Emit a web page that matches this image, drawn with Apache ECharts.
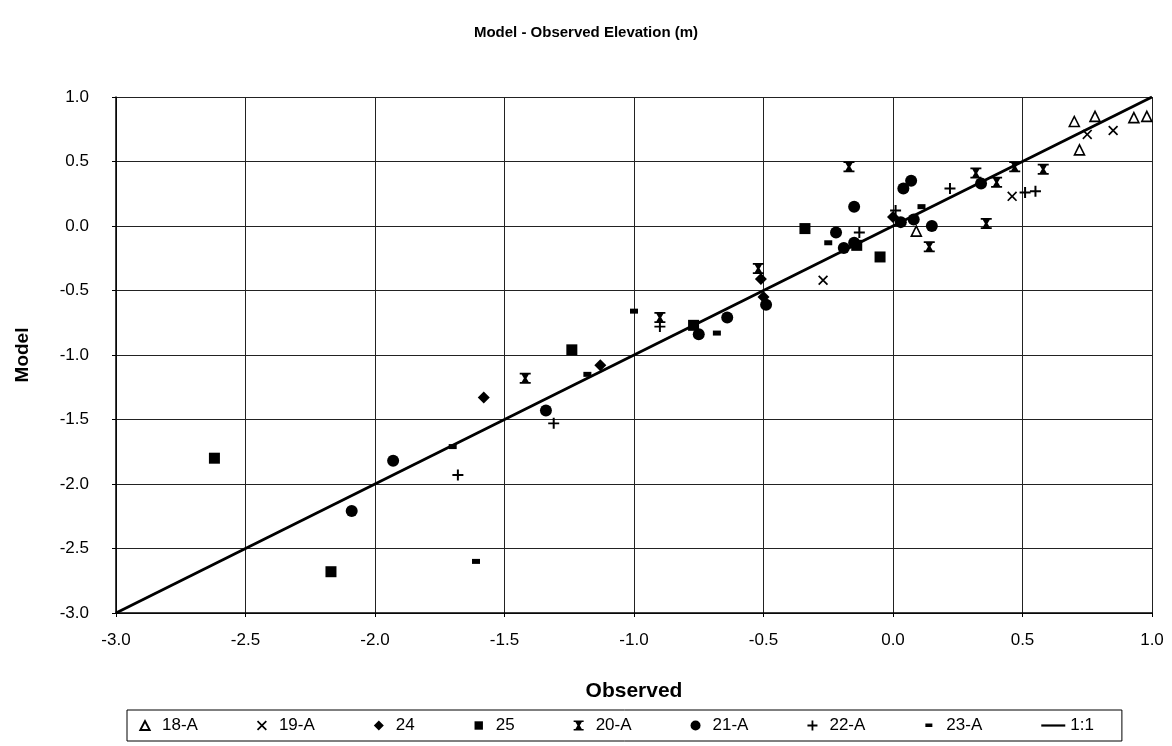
<!DOCTYPE html>
<html>
<head>
<meta charset="utf-8">
<script src="https://cdn.jsdelivr.net/npm/echarts@6/dist/echarts.min.js"></script>
<style>
html,body{margin:0;padding:0;background:#fff;}
#chart{width:1172px;height:746px;}
</style>
</head>
<body>
<div id="chart"></div>
<script>
// Data: [observed, model]
var s18A = [[0.70,0.81],[0.78,0.85],[0.72,0.59],[0.93,0.84],[0.98,0.85],[0.09,-0.04]];
var s19A = [[0.75,0.71],[0.85,0.74],[0.46,0.23],[-0.27,-0.42]];
var s24  = [[-1.13,-1.08],[-0.51,-0.41],[-0.50,-0.55],[-1.58,-1.33],[0.00,0.07]];
var s25  = [[-0.34,-0.02],[-0.05,-0.24],[-0.14,-0.15],[-0.77,-0.77],[-1.24,-0.96],[-2.62,-1.80],[-2.17,-2.68]];
var s20A = [[-0.17,0.46],[0.47,0.46],[0.58,0.44],[0.32,0.41],[0.40,0.34],[0.36,0.02],[0.14,-0.16],[-0.52,-0.33],[-0.90,-0.71],[-1.42,-1.18]];
var s21A = [[0.07,0.35],[0.04,0.29],[-0.15,0.15],[-0.22,-0.05],[-0.19,-0.17],[-0.15,-0.13],[-0.49,-0.61],[-0.64,-0.71],[-0.75,-0.84],[0.15,0.00],[0.34,0.33],[0.08,0.05],[0.03,0.03],[-1.34,-1.43],[-1.93,-1.82],[-2.09,-2.21]];
var s22A = [[0.22,0.29],[0.51,0.26],[0.55,0.27],[0.01,0.12],[-0.13,-0.05],[-0.90,-0.78],[-1.31,-1.53],[-1.68,-1.93]];
var s23A = [[-1.00,-0.66],[-1.18,-1.15],[-1.70,-1.71],[-1.61,-2.60],[-0.68,-0.83],[-0.25,-0.13],[0.11,0.15]];
var lineOneToOne = [[-3,-3],[1,1]];
var axisMin = -3.0, axisMax = 1.0, axisStep = 0.5;

var FONT = '"Liberation Sans", Arial, sans-serif';
var symX = 'path://M0,1.2L1.2,0L5,3.8L8.8,0L10,1.2L6.2,5L10,8.8L8.8,10L5,6.2L1.2,10L0,8.8L3.8,5Z';
var symPlus = 'path://M4.1,0H5.9V4.1H10V5.9H5.9V10H4.1V5.9H0V4.1H4.1Z';
var symStar = 'path://M0,0H10V1.6H8.2L6.2,5L8.2,8.4H10V10H0V8.4H1.8L3.8,5L1.8,1.6H0Z';

function sc(name, data, symbol, size, extraStyle) {
  return {
    name: name, type: 'scatter', data: data, symbol: symbol, symbolSize: size,
    itemStyle: Object.assign({color: '#000', opacity: 1}, extraStyle || {}),
    emphasis: {disabled: true},
    z: 3
  };
}

var chart = echarts.init(document.getElementById('chart'), null, {renderer: 'canvas'});
chart.setOption({
  animation: false,
  backgroundColor: '#fff',
  title: {
    text: 'Model - Observed Elevation (m)',
    left: 'center', top: 20,
    textStyle: {fontFamily: FONT, fontSize: 15, fontWeight: 'bold', color: '#000'}
  },
  grid: {left: 116, right: 20, top: 97, bottom: 133, containLabel: false},
  xAxis: {
    type: 'value', min: axisMin, max: axisMax, interval: axisStep,
    name: 'Observed', nameLocation: 'middle', nameGap: 68,
    nameTextStyle: {fontFamily: FONT, fontSize: 21, fontWeight: 'bold', color: '#000'},
    axisLine: {show: true, onZero: false, lineStyle: {color: '#000', width: 1.5}},
    axisTick: {show: true, inside: false, length: 4, lineStyle: {color: '#000'}},
    axisLabel: {fontFamily: FONT, fontSize: 17, color: '#000', margin: 19,
      formatter: function (v) { return v.toFixed(1); }},
    splitLine: {show: true, lineStyle: {color: '#222', width: 1}}
  },
  yAxis: {
    type: 'value', min: axisMin, max: axisMax, interval: axisStep,
    name: 'Model', nameLocation: 'middle', nameGap: 84, nameRotate: 90,
    nameTextStyle: {fontFamily: FONT, fontSize: 19, fontWeight: 'bold', color: '#000'},
    axisLine: {show: true, onZero: false, lineStyle: {color: '#000', width: 1.5}},
    axisTick: {show: true, inside: false, length: 4, lineStyle: {color: '#000'}},
    axisLabel: {fontFamily: FONT, fontSize: 17, color: '#000', margin: 27,
      formatter: function (v) { return v.toFixed(1); }},
    splitLine: {show: true, lineStyle: {color: '#222', width: 1}}
  },
  legend: {
    bottom: 5, left: 127,
    padding: [7, 28, 7, 12],
    borderColor: '#000', borderWidth: 1,
    itemGap: 59, itemWidth: 24, itemHeight: 10,
    symbolKeepAspect: true,
    textStyle: {fontFamily: FONT, fontSize: 17, color: '#000', padding: [0, 0, 0, 0]},
    data: [
      {name: '18-A', icon: 'path://M0,0M10,10M5,0.6L9.6,9.4H0.4Z'},
      '19-A',
      {name: '24', icon: 'path://M5,0L10,5L5,10L0,5Z'},
      {name: '25', icon: 'path://M0,0M10,10M0.8,0.8H9.2V9.2H0.8Z'},
      '20-A', '21-A', '22-A',
      {name: '23-A', icon: 'path://M0,0M10,10M1,3H8V6.5H1Z'},
      {name: '1:1', icon: 'path://M0,0H24V2.2H0Z'}]
  },
  series: [
    sc('18-A', s18A, 'triangle', 10, {color: '#fff', borderColor: '#000', borderWidth: 1.6}),
    sc('19-A', s19A, symX, 10),
    sc('24', s24, 'diamond', 12),
    sc('25', s25, 'rect', 11),
    sc('20-A', s20A, symStar, 11),
    sc('21-A', s21A, 'circle', 12),
    sc('22-A', s22A, symPlus, 11),
    sc('23-A', s23A, 'rect', [8, 5]),
    {
      name: '1:1', type: 'line', data: lineOneToOne, symbol: 'none',
      lineStyle: {color: '#000', width: 2.8}, itemStyle: {color: '#000'},
      emphasis: {disabled: true}, z: 2
    }
  ]
});
</script>
</body>
</html>
